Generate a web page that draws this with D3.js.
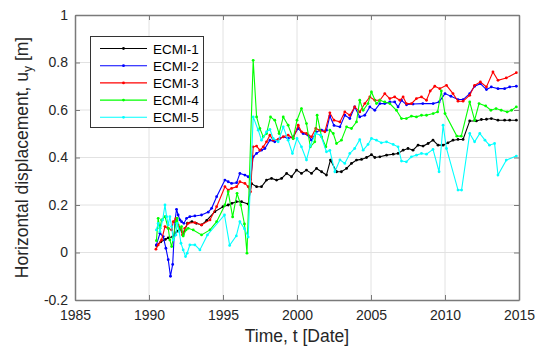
<!DOCTYPE html>
<html>
<head>
<meta charset="utf-8">
<script src="https://cdn.jsdelivr.net/npm/d3@7"></script>
<style>
  body { margin: 0; background: #fff; }
  svg { display: block; font-family: "Liberation Sans", Arial, sans-serif; }
</style>
</head>
<body>
<svg width="549" height="350"></svg>
<script>
// data: [year, displacement]
var ecmi1 = [[1990.5,0.03],[1990.8,0.045],[1991.1,0.055],[1991.3,0.062],[1991.6,0.066],[1991.9,0.09],[1992.1,0.1],[1992.3,0.075],
  [1992.6,0.124],[1992.9,0.13],[1993.2,0.123],[1993.55,0.116],[1993.9,0.135],[1994.45,0.172],[1995.0,0.193],[1995.35,0.2],
  [1995.6,0.207],[1995.9,0.214],[1996.25,0.214],[1996.7,0.204],[1996.93,0.29],[1997.27,0.277],[1997.6,0.277],[1997.94,0.305],
  [1998.28,0.312],[1998.62,0.305],[1998.96,0.312],[1999.3,0.333],[1999.63,0.319],[1999.97,0.347],[2000.3,0.333],[2000.64,0.347],
  [2000.98,0.333],[2001.32,0.354],[2001.66,0.34],[2001.99,0.326],[2002.26,0.389],[2002.67,0.34],[2003.0,0.34],[2003.35,0.354],
  [2003.68,0.375],[2004.02,0.389],[2004.36,0.392],[2004.7,0.40],[2005.03,0.412],[2005.26,0.40],[2005.6,0.403],[2006.05,0.41],
  [2006.5,0.414],[2006.83,0.417],[2007.17,0.431],[2007.5,0.438],[2007.84,0.431],[2008.18,0.452],[2008.52,0.448],[2008.86,0.459],
  [2009.19,0.473],[2009.53,0.452],[2009.87,0.452],[2010.2,0.462],[2010.54,0.473],[2010.88,0.476],[2011.22,0.476],[2011.67,0.554],
  [2012.12,0.554],[2012.46,0.56],[2012.8,0.561],[2013.13,0.564],[2013.58,0.557],[2014.03,0.557],[2014.37,0.557],[2014.82,0.557]];

var ecmi2 = [[1990.5,0.032],[1990.74,0.081],[1990.96,0.067],[1991.14,0.018],[1991.3,-0.03],[1991.45,-0.1],[1991.6,-0.05],
  [1991.75,0.13],[1991.86,0.182],[1991.97,0.158],[1992.09,0.137],[1992.2,0.13],[1992.36,0.123],[1992.54,0.144],[1992.76,0.151],
  [1993.1,0.154],[1993.55,0.158],[1994.0,0.17],[1994.23,0.186],[1994.57,0.235],[1995.13,0.305],[1995.35,0.298],[1995.58,0.291],
  [1995.92,0.294],[1996.14,0.333],[1996.48,0.326],[1996.7,0.319],[1996.86,0.308],[1997.04,0.403],[1997.27,0.417],[1997.6,0.431],
  [1997.83,0.438],[1998.17,0.473],[1998.5,0.466],[1998.84,0.48],[1999.07,0.487],[1999.4,0.48],[1999.74,0.487],[2000.08,0.522],
  [2000.41,0.501],[2000.75,0.494],[2000.98,0.473],[2001.31,0.508],[2001.66,0.515],[2001.99,0.515],[2002.22,0.575],[2002.5,0.535],
  [2002.9,0.529],[2003.23,0.578],[2003.57,0.564],[2003.9,0.613],[2004.24,0.571],[2004.58,0.578],[2004.92,0.613],[2005.26,0.599],
  [2005.6,0.627],[2005.93,0.627],[2006.27,0.634],[2006.6,0.634],[2006.83,0.613],[2007.06,0.641],[2007.4,0.622],[2007.84,0.625],
  [2008.5,0.627],[2009.2,0.627],[2009.6,0.634],[2010.0,0.669],[2010.4,0.658],[2010.88,0.644],[2011.22,0.644],[2011.67,0.669],
  [2012.0,0.70],[2012.39,0.711],[2012.8,0.686],[2013.13,0.697],[2013.58,0.69],[2014.03,0.69],[2014.37,0.697],[2014.82,0.70]];

var ecmi3 = [[1990.47,0.014],[1990.62,0.032],[1990.85,0.053],[1991.08,0.109],[1991.3,0.102],[1991.53,0.095],[1991.64,0.13],
  [1991.82,0.144],[1991.97,0.116],[1992.14,0.102],[1992.27,0.074],[1992.42,0.102],[1992.65,0.123],[1993.1,0.126],[1993.55,0.116],
  [1994.12,0.137],[1994.57,0.193],[1995.13,0.277],[1995.35,0.263],[1995.58,0.27],[1995.92,0.277],[1996.14,0.298],[1996.48,0.291],
  [1996.7,0.277],[1996.86,0.256],[1997.04,0.445],[1997.27,0.448],[1997.49,0.431],[1997.72,0.445],[1997.94,0.466],[1998.17,0.494],
  [1998.39,0.473],[1998.73,0.476],[1999.07,0.487],[1999.4,0.494],[1999.74,0.48],[2000.08,0.536],[2000.3,0.508],[2000.64,0.501],
  [2000.98,0.487],[2001.27,0.522],[2001.54,0.515],[2001.88,0.508],[2002.22,0.588],[2002.5,0.557],[2002.9,0.55],[2003.23,0.592],
  [2003.57,0.578],[2003.9,0.613],[2004.24,0.592],[2004.58,0.627],[2004.92,0.655],[2005.26,0.641],[2005.6,0.641],[2005.93,0.669],
  [2006.27,0.648],[2006.6,0.655],[2006.95,0.641],[2007.17,0.655],[2007.39,0.627],[2007.73,0.627],[2008.07,0.648],[2008.41,0.655],
  [2008.75,0.641],[2009.0,0.68],[2009.31,0.70],[2009.65,0.69],[2010.1,0.704],[2010.54,0.669],[2010.88,0.637],[2011.22,0.637],
  [2011.67,0.662],[2012.0,0.704],[2012.39,0.718],[2012.8,0.697],[2013.24,0.76],[2013.58,0.725],[2014.14,0.735],[2014.82,0.757]];

var ecmi4 = [[1990.5,0.05],[1990.62,0.144],[1990.74,0.102],[1990.85,0.137],[1991.08,0.151],[1991.3,0.102],[1991.41,0.053],
  [1991.53,0.025],[1991.64,0.06],[1991.82,0.13],[1991.9,0.144],[1992.04,0.095],[1992.2,0.109],[1992.31,0.07],[1992.5,0.095],
  [1992.65,0.102],[1992.99,0.095],[1993.55,0.074],[1994.12,0.095],[1994.57,0.13],[1995.13,0.2],[1995.35,0.256],[1995.65,0.15],
  [1995.95,0.249],[1996.2,0.2],[1996.45,0.12],[1996.62,-0.003],[1997.04,0.809],[1997.27,0.571],[1997.49,0.522],[1997.72,0.487],
  [1997.94,0.501],[1998.21,0.571],[1998.5,0.557],[1998.79,0.501],[1999.07,0.571],[1999.4,0.536],[1999.74,0.48],[2000.0,0.557],
  [2000.3,0.606],[2000.64,0.543],[2000.9,0.445],[2001.2,0.466],[2001.36,0.578],[2001.66,0.487],[2001.95,0.445],[2002.22,0.515],
  [2002.45,0.501],[2002.67,0.459],[2003.0,0.473],[2003.35,0.529],[2003.68,0.522],[2004.02,0.55],[2004.24,0.641],[2004.47,0.599],
  [2004.8,0.627],[2005.03,0.676],[2005.37,0.627],[2005.6,0.641],[2005.93,0.634],[2006.27,0.627],[2006.72,0.599],[2007.06,0.564],
  [2007.39,0.564],[2007.73,0.574],[2008.07,0.571],[2008.41,0.578],[2008.75,0.578],[2009.2,0.585],[2009.5,0.592],[2009.75,0.68],
  [2010.0,0.585],[2010.8,0.49],[2011.1,0.49],[2011.67,0.634],[2012.0,0.557],[2012.3,0.627],[2012.75,0.617],[2013.1,0.599],
  [2013.45,0.606],[2013.8,0.599],[2014.2,0.592],[2014.5,0.599],[2014.82,0.613]];

var ecmi5 = [[1990.5,0.095],[1990.62,0.123],[1990.74,0.088],[1990.92,0.137],[1991.08,0.2],[1991.19,0.151],[1991.3,0.116],
  [1991.41,0.151],[1991.53,0.109],[1991.64,0.053],[1991.82,0.074],[1991.9,0.123],[1992.04,0.088],[1992.16,0.039],[1992.31,0.011],
  [1992.47,-0.017],[1992.58,-0.003],[1992.76,0.032],[1993.1,0.032],[1993.44,0.011],[1993.95,0.074],[1995.1,0.158],[1995.45,0.03],
  [1995.9,0.07],[1996.14,0.13],[1996.45,0.1],[1996.7,0.065],[1997.04,0.571],[1997.38,0.515],[1997.6,0.473],[1997.94,0.508],
  [1998.17,0.518],[1998.39,0.48],[1998.73,0.466],[1999.07,0.529],[1999.4,0.473],[1999.69,0.417],[2000.0,0.48],[2000.3,0.445],
  [2000.64,0.39],[2000.9,0.45],[2001.25,0.501],[2001.6,0.494],[2001.99,0.424],[2002.22,0.43],[2002.56,0.34],[2002.9,0.39],
  [2003.23,0.375],[2003.57,0.417],[2003.9,0.438],[2004.24,0.475],[2004.47,0.431],[2004.8,0.455],[2005.03,0.48],[2005.37,0.473],
  [2005.7,0.462],[2006.05,0.466],[2006.5,0.455],[2006.83,0.445],[2007.06,0.385],[2007.39,0.382],[2007.73,0.403],[2008.07,0.41],
  [2008.41,0.417],[2008.75,0.414],[2009.19,0.434],[2009.6,0.34],[2009.87,0.536],[2010.1,0.438],[2010.88,0.263],[2011.12,0.263],
  [2011.67,0.501],[2012.0,0.466],[2012.35,0.501],[2012.7,0.473],[2013.0,0.452],[2013.35,0.459],[2013.58,0.326],[2014.14,0.389],
  [2014.82,0.406]];

var seriesNames = ["ECMI-1", "ECMI-2", "ECMI-3", "ECMI-4", "ECMI-5"];
var seriesColors = ["#000000", "#0000ff", "#ff0000", "#00ff00", "#00ffff"];
var xTicks = [1985, 1990, 1995, 2000, 2005, 2010, 2015];
var yTicks = [-0.2, 0, 0.2, 0.4, 0.6, 0.8, 1];

var allSeries = [ecmi1, ecmi2, ecmi3, ecmi4, ecmi5];

var svg = d3.select("svg");
// plot box edges
var pL = 75, pR = 519, pT = 15, pB = 300;

var xScale = d3.scaleLinear().domain([1985, 2015]).range([pL, pR]);
var yScale = d3.scaleLinear().domain([-0.2, 1]).range([pB, pT]);

var axisCol = "#7a7a7a", textCol = "#262626";

// grid
svg.append("g").selectAll("line").data(xTicks.slice(1, -1)).enter().append("line")
  .attr("x1", function(d) { return xScale(d); }).attr("x2", function(d) { return xScale(d); })
  .attr("y1", pT).attr("y2", pB)
  .style("stroke", "#e2e2e2").style("stroke-width", 1);
svg.append("g").selectAll("line").data(yTicks.slice(1, -1)).enter().append("line")
  .attr("y1", function(d) { return yScale(d); }).attr("y2", function(d) { return yScale(d); })
  .attr("x1", pL).attr("x2", pR)
  .style("stroke", "#e2e2e2").style("stroke-width", 1);

// data lines
var line = d3.line()
  .x(function(d) { return xScale(d[0]); })
  .y(function(d) { return yScale(d[1]); });

allSeries.forEach(function(s, i) {
  svg.append("path")
    .datum(s)
    .attr("d", line)
    .style("fill", "none")
    .style("stroke", seriesColors[i])
    .style("stroke-width", 1.1);
  svg.append("g").selectAll("circle").data(s).enter().append("circle")
    .attr("cx", function(d) { return xScale(d[0]); })
    .attr("cy", function(d) { return yScale(d[1]); })
    .attr("r", 1.4)
    .style("fill", seriesColors[i]);
});

// axes
var fmtY = function(d) { return String(+d.toFixed(1)); };
var gx = svg.append("g").attr("transform", "translate(0," + pB + ")")
  .call(d3.axisBottom(xScale).tickValues(xTicks).tickFormat(d3.format("d"))
    .tickSizeInner(-5).tickSizeOuter(0).tickPadding(10));
var gy = svg.append("g").attr("transform", "translate(" + pL + ",0)")
  .call(d3.axisLeft(yScale).tickValues(yTicks).tickFormat(fmtY)
    .tickSizeInner(-5).tickSizeOuter(0).tickPadding(7));
var gt = svg.append("g").attr("transform", "translate(0," + pT + ")")
  .call(d3.axisTop(xScale).tickValues(xTicks).tickFormat("").tickSizeInner(-5).tickSizeOuter(0));
var gr = svg.append("g").attr("transform", "translate(" + pR + ",0)")
  .call(d3.axisRight(yScale).tickValues(yTicks).tickFormat("").tickSizeInner(-5).tickSizeOuter(0));

[gx, gy, gt, gr].forEach(function(g) {
  g.selectAll("path.domain").style("stroke", axisCol).style("stroke-width", 1.5);
  g.selectAll(".tick line").style("stroke", axisCol).style("stroke-width", 1);
  g.selectAll(".tick text").style("fill", textCol).style("font-size", "14px")
    .style("font-family", "Liberation Sans, Arial, sans-serif");
});

// axis labels
svg.append("text")
  .attr("x", (pL + pR) / 2)
  .attr("y", 342)
  .attr("text-anchor", "middle")
  .style("font-size", "17.5px")
  .style("fill", textCol)
  .text("Time, t [Date]");

var yl = svg.append("text")
  .attr("text-anchor", "middle")
  .attr("transform", "translate(28," + (pT + pB) / 2 + ")rotate(-90)")
  .style("font-size", "17.5px")
  .style("fill", textCol);
yl.append("tspan").text("Horizontal displacement, u");
yl.append("tspan").attr("dy", 4).style("font-size", "12px").text("y");
yl.append("tspan").attr("dy", -4).text(" [m]");

// legend
var lg = svg.append("g");
lg.append("rect")
  .attr("x", 90.5).attr("y", 36.5).attr("width", 113).attr("height", 91)
  .style("fill", "#fff").style("stroke", "#333").style("stroke-width", 1);
seriesNames.forEach(function(name, i) {
  var yy = 48.5 + i * 17.2;
  lg.append("line")
    .attr("x1", 100).attr("x2", 147).attr("y1", yy).attr("y2", yy)
    .style("stroke", seriesColors[i]).style("stroke-width", 1.1);
  lg.append("circle").attr("cx", 123.5).attr("cy", yy).attr("r", 1.4).style("fill", seriesColors[i]);
  lg.append("text")
    .attr("x", 153).attr("y", yy + 5)
    .style("font-size", "13.5px")
    .style("fill", "#000")
    .text(name);
});
</script>
</body>
</html>
